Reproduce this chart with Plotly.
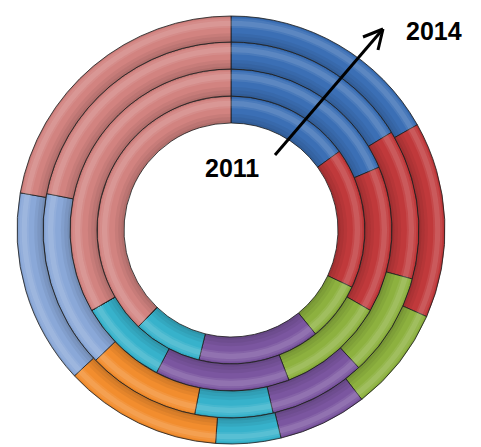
import plotly.graph_objects as go

# ---- data (values read as angular shares of each ring) ----
years = ["2011", "2012", "2013", "2014"]
categories = ["A", "B", "C", "D", "E", "F", "G", "H"]
v2011 = [15.0, 17.0, 7.1, 14.7, 8.3, 0.0, 0.0, 37.8]
v2012 = [18.6, 14.7, 10.8, 13.5, 9.0, 0.0, 0.0, 33.3]
v2013 = [16.3, 12.9, 8.9, 8.3, 6.7, 9.7, 15.3, 21.9]
v2014 = [16.8, 14.8, 7.9, 6.7, 4.9, 11.9, 14.7, 22.2]
ring_values = [v2011, v2012, v2013, v2014]

colors = ["#3b6fb5", "#c0393b", "#8db13f", "#7b56a0", "#37b2cb",
          "#f28d2e", "#8aa8d8", "#d28380"]

W, H = 481, 447
cx, cy = 231, 230
r_in = [107, 134, 161, 188]
r_out = [134, 161, 188, 214]

# bevel shading bands: (start fraction from inner edge, end fraction, colour)
bands = [
    (0.00, 0.10, "rgba(0,0,0,0.16)"),
    (0.10, 0.22, "rgba(0,0,0,0.10)"),
    (0.22, 0.34, "rgba(0,0,0,0.05)"),
    (0.55, 0.62, "rgba(255,255,255,0.08)"),
    (0.62, 0.82, "rgba(255,255,255,0.17)"),
    (0.82, 0.90, "rgba(255,255,255,0.08)"),
    (0.95, 1.00, "rgba(0,0,0,0.10)"),
]


def dom(R):
    return dict(x=[(cx - R) / W, (cx + R) / W],
                y=[(H - cy - R) / H, (H - cy + R) / H])


fig = go.Figure()


def ring(vals, ri, ro, cols, line, name=""):
    fig.add_trace(go.Pie(
        labels=categories[:len(vals)], values=vals, sort=False,
        direction="clockwise", rotation=0, hole=ri / ro, domain=dom(ro),
        textinfo="none", hoverinfo="skip", showlegend=False, name=name,
        marker=dict(colors=cols, line=line),
    ))


for i, vals in enumerate(ring_values):
    ri, ro = r_in[i], r_out[i]
    t = ro - ri
    ring(vals, ri, ro, colors,
         dict(color="rgba(30,30,30,0.8)", width=1), name=years[i])
    total = [sum(vals)]
    for f0, f1, c in bands:
        ring(total, ri + f0 * t, ri + f1 * t, [c], dict(width=0))

# arrow (line + open V head)
tail = (275, 155)
tip = (383, 29)
arm1 = (363, 37)
arm2 = (378, 50)


def px(p):
    return p[0] / W, (H - p[1]) / H


for a, b in [(tail, tip), (arm1, tip), (arm2, tip)]:
    (x0, y0), (x1, y1) = px(a), px(b)
    fig.add_shape(type="line", xref="paper", yref="paper",
                  x0=x0, y0=y0, x1=x1, y1=y1,
                  line=dict(color="black", width=3))

for label, (lx, ly) in [("2011", (231.5, 167.5)), ("2014", (433.5, 31))]:
    fig.add_annotation(x=lx / W, y=(H - ly) / H, xref="paper", yref="paper",
                       xanchor="center", yanchor="middle",
                       text="<b>" + label + "</b>", showarrow=False,
                       font=dict(family="Liberation Sans", size=25,
                                 color="black"))

fig.update_layout(width=W, height=H, margin=dict(l=0, r=0, t=0, b=0),
                  paper_bgcolor="white", plot_bgcolor="white")
fig.write_html("out.html", config={"displayModeBar": False},
               post_script="document.body.style.margin='0px';")
